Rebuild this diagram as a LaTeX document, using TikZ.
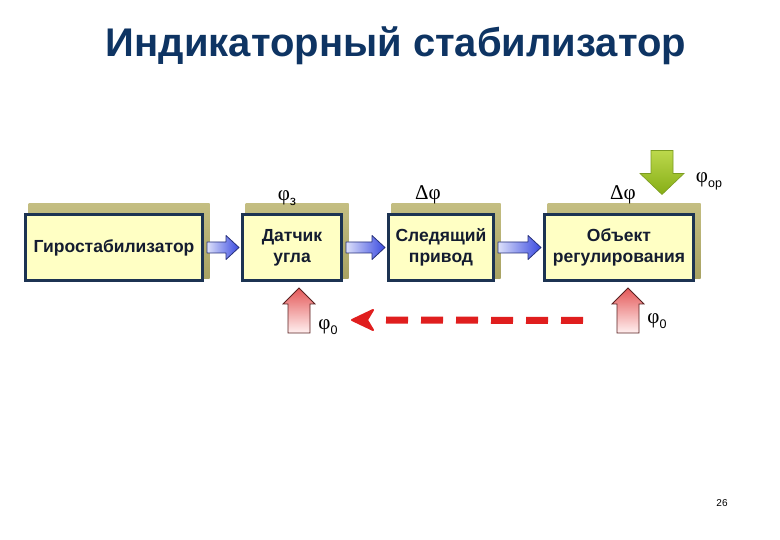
\documentclass[tikz,border=0pt]{standalone}
\usepackage{fontspec}
\setmainfont{Liberation Sans}
\newfontfamily\grk{Liberation Serif}
\usetikzlibrary{calc,backgrounds}
\definecolor{titleblue}{HTML}{0E3463}
\definecolor{boxfill}{HTML}{FFFFC4}
\definecolor{boxline}{HTML}{1C3352}
\definecolor{boxtext}{HTML}{141C30}
\definecolor{shadtop}{HTML}{C4BE82}
\definecolor{shadbot}{HTML}{A8A262}
\definecolor{arrlight}{HTML}{DCE0FA}
\definecolor{arrdark}{HTML}{3A4AE0}
\definecolor{arrline}{HTML}{26307A}
\definecolor{redtop}{HTML}{E45858}
\definecolor{redbot}{HTML}{FFF0F0}
\definecolor{redline}{HTML}{5A2020}
\definecolor{greentop}{HTML}{BCD84C}
\definecolor{greenbot}{HTML}{86AE16}
\definecolor{greenline}{HTML}{7C9C22}
\definecolor{fbred}{HTML}{E01E1E}
\newcommand\blockarrow[2]{%
  \path[bluearr] ($(#1.east)+(3,-5.5)$) -- ($(#2.west)+(-15,-5.5)$) -- ($(#2.west)+(-15,-12)$)
    -- ($(#2.west)+(-2,0)$) -- ($(#2.west)+(-15,12)$) -- ($(#2.west)+(-15,5.5)$)
    -- ($(#1.east)+(3,5.5)$) -- cycle;}
\newcommand\redup[1]{%
  \path[redarr] (#1) -- ++(16,16) -- ++(-5,0) -- ++(0,29) -- ++(-22,0) -- ++(0,-29) -- ++(-5,0) -- cycle;}
\newcommand\boxshadow[1]{%
  \path[shadowbox] ($(#1.south west)+(4.5,-3.5)$) rectangle ($(#1.north east)+(5.5,-9.5)$);}
\begin{document}
\begin{tikzpicture}[x=1pt,y=-1pt,
  blk/.style={draw=boxline, line width=3pt, fill=boxfill, minimum height=66pt,
    inner sep=0pt, align=center, text=boxtext,
    font=\bfseries\fontsize{17.5}{21}\selectfont},
  shadowbox/.style={top color=shadtop, bottom color=shadbot},
  bluearr/.style={left color=arrlight, right color=arrdark, draw=arrline, line width=0.8pt, line join=round},
  redarr/.style={top color=redtop, bottom color=redbot, draw=redline, line width=0.8pt},
  greenarr/.style={top color=greentop, bottom color=greenbot, draw=greenline, line width=0.6pt},
  sig/.style={inner sep=0pt, font=\grk\fontsize{21}{24}\selectfont}]
\useasboundingbox (0,0) rectangle (780,540);

\node[anchor=base, text=titleblue, font=\bfseries\fontsize{40}{48}\selectfont] (title) at (396,57) {Индикаторный стабилизатор};

\node[blk, minimum width=177pt] (b1) at (114,247.5) {Гиростабилизатор};
\node[blk, minimum width=99pt]  (b2) at (292,247.5) {Датчик\\угла};
\node[blk, minimum width=105pt] (b3) at (441,247.5) {Следящий\\привод};
\node[blk, minimum width=149pt] (b4) at (619,247.5) {Объект\\регулирования};

\begin{scope}[on background layer]
  \fill[white] (0,0) rectangle (780,540);
  \boxshadow{b1}\boxshadow{b2}\boxshadow{b3}\boxshadow{b4}
\end{scope}

\blockarrow{b1}{b2}
\blockarrow{b2}{b3}
\blockarrow{b3}{b4}

% signal labels
\node[sig] (phz) at (287,198) {φ\raisebox{-0.25em}{\normalfont\fontsize{13.5}{14}\selectfont з}};
\node[sig] (dphi1) at (428,195) {Δφ};
\node[sig] (dphi2) at (623,195) {Δφ};
\node[sig] (phor) at (709,181) {φ\raisebox{-0.25em}{\normalfont\fontsize{12.5}{14}\selectfont ор}};

% disturbance arrow
\coordinate (gtip) at ($(b4.north)+(43,-18.5)$);
\path[greenarr] (gtip) -- ++(22,-21) -- ++(-11,0) -- ++(0,-23) -- ++(-22,0) -- ++(0,23) -- ++(-11,0) -- cycle;

% base angle inputs
\coordinate (r2tip) at ($(b2.south)+(7,6)$);
\coordinate (r4tip) at ($(b4.south)+(9,6)$);
\redup{r2tip}
\redup{r4tip}
\node[sig] (ph0a) at (328,327) {φ\raisebox{-0.25em}{\normalfont\fontsize{12.5}{14}\selectfont 0}};
\node[sig] (ph0b) at (657,321) {φ\raisebox{-0.25em}{\normalfont\fontsize{12.5}{14}\selectfont 0}};

% feedback dashed arrow
\coordinate (fbR) at ($(b4.south)+(-36,38.5)$);
\coordinate (fbL) at (386,320);
\coordinate (fbTip) at (352,320);
\draw[fbred, line width=7pt, dash pattern=on 22pt off 13pt] (fbR) -- (fbL);
\filldraw[fbred, line width=2pt, line join=round] (fbTip) -- ++(21,-10) -- ++(-6,10) -- ++(6,10) -- cycle;

\node[font=\fontsize{10}{12}\selectfont] (pg) at (722,503) {26};
\end{tikzpicture}
\end{document}
